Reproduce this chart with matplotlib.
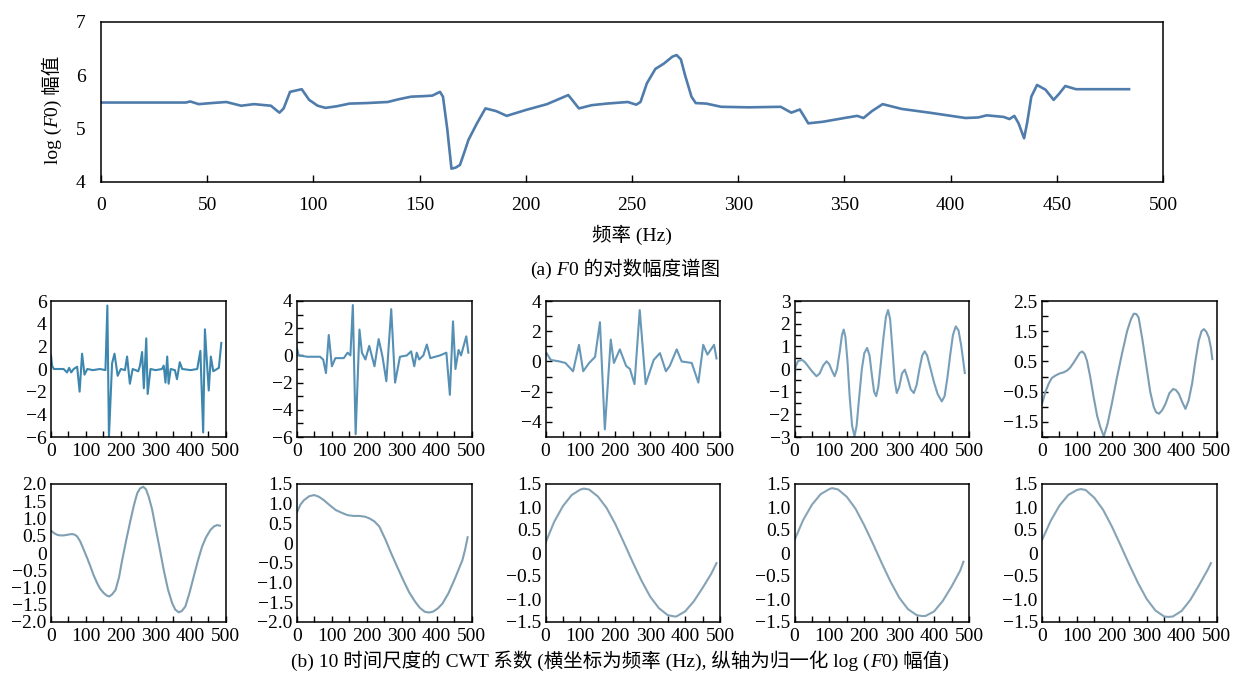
#!/usr/bin/env python3
"""
plot.py — log F0 spectrum + 10-scale CWT coefficients, saved to out.png.
"""
import matplotlib
matplotlib.use('Agg')
import matplotlib.pyplot as plt
from matplotlib.ticker import FixedLocator

FAMILY = ['Liberation Serif', 'Noto Sans CJK SC']
plt.rcParams['font.family'] = FAMILY
plt.rcParams['axes.unicode_minus'] = True

W, H = 1233, 680

# --- (a) log F0 amplitude -------------------------------------------------
f0_x = [0, 20, 40, 42, 46, 52, 59, 63, 66, 72, 80, 84, 86, 89, 94.5, 98, 102,
        105.7, 111, 117, 125, 135, 140, 146, 152, 156, 159.6, 161, 163, 165,
        167, 169, 171, 173, 177, 181, 186, 191, 200, 210, 220, 225, 231, 238,
        248, 252, 254, 257, 261, 265, 269, 271, 273, 275, 278, 280, 285, 292,
        305, 320, 325, 329, 333, 340, 350, 356, 359, 363, 368, 377, 390, 407,
        413, 417, 425, 427.7, 430, 432, 434.6, 436, 438, 440.7, 444.7, 448.5,
        451, 454, 459, 470, 484]
f0_y = [5.49, 5.49, 5.49, 5.51, 5.46, 5.48, 5.5, 5.46, 5.43, 5.46, 5.43, 5.3,
        5.38, 5.69, 5.74, 5.54, 5.43, 5.39, 5.42, 5.47, 5.48, 5.5, 5.55, 5.6,
        5.61, 5.62, 5.69, 5.6, 5.0, 4.25, 4.27, 4.32, 4.55, 4.79, 5.1, 5.38,
        5.33, 5.24, 5.35, 5.46, 5.63, 5.38, 5.44, 5.47, 5.5, 5.45, 5.5, 5.85,
        6.12, 6.22, 6.35, 6.38, 6.3, 6.0, 5.6, 5.48, 5.47, 5.41, 5.4, 5.41,
        5.3, 5.36, 5.1, 5.13, 5.2, 5.24, 5.2, 5.33, 5.46, 5.37, 5.3, 5.2,
        5.21, 5.25, 5.22, 5.18, 5.24, 5.1, 4.82, 5.1, 5.6, 5.82, 5.73, 5.54,
        5.65, 5.8, 5.74, 5.74, 5.74]
f0_xticks = [0, 50, 100, 150, 200, 250, 300, 350, 400, 450, 500]
f0_yticks = [4, 5, 6, 7]

# --- (b) CWT coefficients, 10 scales ---------------------------------------
cwt1_x = [0, 3, 8, 36, 46, 52, 58, 65, 75, 82, 89, 96, 104, 120, 140, 156,
          161.5, 166, 175, 182, 191, 200, 212, 218, 226, 234, 250, 255, 261,
          266, 273, 277, 285, 300, 318, 323, 328, 333, 337, 343, 355, 361, 369,
          376, 400, 419, 428, 436, 441, 446, 452, 458, 465, 481, 488]
cwt1_y = [1.2, 0.3, 0.0, 0.0, -0.3, 0.1, -0.3, 0.0, 0.2, -2.0, 1.35, -0.5,
          0.0, -0.1, 0.0, -0.1, 5.6, -6.0, 0.5, 1.35, -0.6, 0.0, -0.1, 1.1,
          -1.3, 0.0, -0.2, 0.3, 1.5, -1.7, 2.7, -2.2, 0.0, -0.1, 0.0, 0.3,
          -1.2, 1.1, -1.3, 0.0, -0.1, -0.9, 0.6, 0.0, -0.1, 0.0, 1.6, -5.6,
          3.5, 1.0, -1.9, 1.1, -0.2, 0.1, 2.3]

cwt2_x = [0, 5, 30, 66, 75, 83, 91, 100, 110, 134, 145, 153, 160, 168, 179,
          186, 196, 207, 222, 234, 245, 256, 270, 281, 295, 315, 327, 336, 343,
          350, 362, 372, 382, 410, 428, 438, 447, 454, 463, 470, 485, 491]
cwt2_y = [0.5, 0.0, -0.1, -0.1, -0.3, -1.3, 1.5, -0.8, -0.2, -0.2, 0.2, 0.0,
          3.7, -5.8, 1.9, 0.2, -0.3, 0.7, -0.8, 1.2, -0.1, -1.9, 3.4, -2.0,
          -0.1, 0.0, 0.3, -0.8, 0.2, -0.3, 0.0, 0.8, -0.2, 0.0, 0.2, -2.9,
          2.5, -1.0, 0.4, 0.0, 1.4, 0.2]

cwt3_x = [0, 3, 15, 40, 57, 79, 96, 108, 125, 142, 156, 170, 187, 196, 213,
          231, 242, 255, 270, 287, 310, 328, 345, 356, 376, 390, 419, 438, 452,
          464, 483, 490]
cwt3_y = [0.4, 0.56, 0.1, 0.0, -0.1, -0.65, 1.1, -0.65, -0.1, 0.3, 2.6, -4.5,
          1.45, -0.1, 0.8, -0.3, -0.5, -1.5, 3.4, -1.5, 0.1, 0.55, -0.65,
          -0.3, 0.8, 0.0, -0.1, -1.4, 1.1, 0.45, 1.1, 0.2]

cwt4_x = [0, 3, 10, 22, 30, 40, 50, 63, 72, 82, 92, 100, 108, 115, 122, 130,
          136, 141, 146, 152, 158, 165, 172, 178, 185, 193, 200, 208, 215, 222,
          228, 234, 240, 247, 255, 262, 268, 274, 280, 287, 293, 300, 308, 316,
          324, 333, 342, 350, 358, 366, 373, 380, 390, 400, 410, 422, 430, 438,
          446, 454, 462, 470, 478, 484, 488]
cwt4_y = [-0.5, 0.1, 0.35, 0.4, 0.3, 0.1, -0.1, -0.32, -0.2, 0.15, 0.34, 0.2,
          -0.1, -0.32, 0.0, 0.8, 1.5, 1.74, 1.4, 0.3, -1.2, -2.5, -2.97, -2.5,
          -1.3, 0.0, 0.7, 0.93, 0.6, -0.3, -1.0, -1.2, -0.8, 0.2, 1.4, 2.3,
          2.6, 2.2, 1.0, -0.5, -1.06, -0.8, -0.2, -0.03, -0.4, -0.9, -1.06,
          -0.7, 0.0, 0.6, 0.78, 0.6, 0.0, -0.6, -1.1, -1.43, -1.2, -0.4, 0.6,
          1.5, 1.88, 1.7, 1.0, 0.3, -0.18]

cwt5_x = [0, 3, 10, 19, 28, 38, 50, 62, 72, 81, 90, 100, 108, 115, 122, 129,
          138, 148, 158, 167, 177, 188, 200, 215, 230, 244, 255, 263, 270, 277,
          288, 301, 310, 320, 327, 335, 344, 354, 365, 376, 384, 392, 402, 411,
          420, 430, 440, 449, 457, 464, 471, 478, 484, 488]
cwt5_y = [-0.9, -0.79, -0.5, -0.24, -0.05, 0.03, 0.1, 0.14, 0.2, 0.3, 0.45,
          0.63, 0.78, 0.83, 0.75, 0.52, 0.0, -0.68, -1.3, -1.67, -1.98, -1.56,
          -0.9, -0.02, 0.8, 1.51, 1.9, 2.08, 2.07, 1.95, 1.2, 0.2, -0.5, -1.0,
          -1.18, -1.23, -1.12, -0.9, -0.55, -0.41, -0.45, -0.57, -0.85, -1.07,
          -0.8, -0.24, 0.55, 1.18, 1.5, 1.57, 1.48, 1.29, 0.95, 0.58]

cwt6_x = [0, 8, 17, 26, 36, 48, 60, 68, 75, 84, 94, 103, 113, 122, 132, 141,
          151, 159, 167, 175, 185, 195, 204, 215, 228, 238, 247, 255, 264, 272,
          280, 290, 299, 311, 323, 335, 347, 356, 366, 375, 385, 397, 409, 421,
          433, 445, 457, 467, 476, 484]
cwt6_y = [0.65, 0.58, 0.53, 0.51, 0.51, 0.53, 0.55, 0.53, 0.48, 0.33, 0.09,
          -0.13, -0.39, -0.64, -0.87, -1.04, -1.16, -1.23, -1.26, -1.2, -1.07,
          -0.7, -0.2, 0.35, 0.96, 1.4, 1.73, 1.87, 1.92, 1.85, 1.63, 1.25,
          0.77, 0.15, -0.49, -1.05, -1.45, -1.64, -1.72, -1.68, -1.55, -1.15,
          -0.68, -0.22, 0.19, 0.47, 0.67, 0.77, 0.81, 0.79]

cwt7_x = [0, 10, 20, 35, 49, 62, 77, 94, 111, 128, 145, 162, 179, 195, 207,
          222, 236, 253, 270, 287, 304, 321, 338, 352, 366, 378, 389, 403, 417,
          434, 451, 463, 474, 482, 489]
cwt7_y = [0.78, 0.98, 1.09, 1.19, 1.22, 1.18, 1.09, 0.96, 0.84, 0.77, 0.71,
          0.69, 0.69, 0.67, 0.63, 0.55, 0.42, 0.1, -0.26, -0.6, -0.93, -1.24,
          -1.48, -1.64, -1.74, -1.76, -1.74, -1.66, -1.53, -1.27, -0.93, -0.67,
          -0.43, -0.15, 0.15]

cwt8_x = [0, 25, 50, 75, 100, 110, 125, 150, 175, 200, 225, 250, 275, 300,
          325, 350, 370, 375, 400, 425, 450, 475, 490]
cwt8_y = [0.22, 0.68, 1.02, 1.26, 1.38, 1.40, 1.38, 1.23, 0.98, 0.63, 0.22,
          -0.2, -0.6, -0.95, -1.2, -1.35, -1.38, -1.38, -1.27, -1.05, -0.76,
          -0.45, -0.22]

cwt9_x = [0, 25, 50, 75, 100, 108, 125, 150, 175, 200, 225, 250, 275, 300,
          325, 350, 365, 375, 400, 425, 450, 475, 484]
cwt9_y = [0.28, 0.72, 1.05, 1.28, 1.39, 1.41, 1.38, 1.22, 0.96, 0.6, 0.2,
          -0.22, -0.62, -0.97, -1.22, -1.35, -1.37, -1.37, -1.27, -1.04,
          -0.73, -0.38, -0.19]

cwt10_x = [0, 25, 50, 75, 100, 111, 125, 150, 175, 200, 225, 250, 275, 300,
           325, 350, 362, 375, 400, 425, 450, 475, 484]
cwt10_y = [0.28, 0.7, 1.03, 1.26, 1.37, 1.39, 1.37, 1.2, 0.94, 0.58, 0.17,
           -0.25, -0.65, -1.0, -1.25, -1.38, -1.39, -1.38, -1.26, -1.02, -0.7,
           -0.36, -0.22]

cwt_xticks = [0, 100, 200, 300, 400, 500]
cwt_ylims = [(-6, 6), (-6, 4), (-5, 4), (-3, 3), (-2, 2.5),
             (-2, 2), (-2, 1.5), (-1.5, 1.5), (-1.5, 1.5), (-1.5, 1.5)]
cwt_yticks = [
    [-6, -4, -2, 0, 2, 4, 6],
    [-6, -4, -2, 0, 2, 4],
    [-4, -2, 0, 2, 4],
    [-3, -2, -1, 0, 1, 2, 3],
    [-1.5, -0.5, 0.5, 1.5, 2.5],
    [-2.0, -1.5, -1.0, -0.5, 0, 0.5, 1.0, 1.5, 2.0],
    [-2.0, -1.5, -1.0, -0.5, 0, 0.5, 1.0, 1.5],
    [-1.5, -1.0, -0.5, 0, 0.5, 1.0, 1.5],
    [-1.5, -1.0, -0.5, 0, 0.5, 1.0, 1.5],
    [-1.5, -1.0, -0.5, 0, 0.5, 1.0, 1.5],
]
# little unlabelled y ticks only show on the first row (panels 2..5)
cwt_yminor = [None, [-5, -3, -1, 1, 3], [-3, -1, 1, 3],
              [-2.5, -1.5, -0.5, 0.5, 1.5, 2.5], [-2, -1, 0, 1, 2],
              None, None, None, None, None]
cwt_colors = ['#3d87ae', '#5590b4', '#6898b8', '#789fba', '#7c9db3',
              '#7f9fb3', '#80a0b3', '#85a3b5', '#86a4b6', '#86a4b6']

ylabel_parts = [('log (', False), ('F', True), ('0) 幅值', False)]
xlabel_text = '频率 (Hz)'
cap_a_parts = [('(a)', False), (' F', True), ('0 的对数幅度谱图', False)]
cap_b_parts = [('(b) 10 时间尺度的 CWT 系数 (横坐标为频率 (Hz), 纵轴为归一化 log (', False),
               ('F', True), ('0) 幅值)', False)]


def px_axes(fig, left, top, width, height):
    """Axes placed in pixel coords measured from the top-left corner."""
    return fig.add_axes([left / W, 1 - (top + height) / H, width / W, height / H])


def tick_labels(ticks):
    # one decimal if any tick is fractional, plain 0 for zero, real minus sign
    dec = 0 if all(float(t).is_integer() for t in ticks) else 1
    out = []
    for v in ticks:
        if abs(v) < 1e-9:
            out.append('0')
            continue
        s = f'{abs(v):.{dec}f}'
        out.append(('\u2212' if v < 0 else '') + s)
    return out


def rich_text(fig, x, y, parts, size, rotation=0):
    """Text made of pieces, some italic; x, y = centre of baseline in px."""
    r = fig.canvas.get_renderer()
    widths = []
    for s, it in parts:
        t = fig.text(0, 0, s, fontsize=size, family=FAMILY,
                     style='italic' if it else 'normal')
        widths.append(t.get_window_extent(r).width)
        t.remove()
    pos = -sum(widths) / 2
    for (s, it), w in zip(parts, widths):
        if rotation == 0:
            fx, fy = (x + pos) / W, 1 - y / H
        else:
            fx, fy = x / W, 1 - (y - pos) / H
        fig.text(fx, fy, s, fontsize=size, family=FAMILY,
                 style='italic' if it else 'normal', rotation=rotation,
                 rotation_mode='anchor', ha='left', va='baseline')
        pos += w


def main():
    fig = plt.figure(figsize=(W / 100, H / 100), dpi=100)
    fig.canvas.draw()

    # top panel
    ax = px_axes(fig, 101, 22, 1062, 160)
    ax.plot(f0_x, f0_y, color='#4f7cab', linewidth=1.9)
    ax.set_xlim(0, 500)
    ax.set_ylim(4, 7)
    ax.xaxis.set_major_locator(FixedLocator(f0_xticks))
    ax.yaxis.set_major_locator(FixedLocator(f0_yticks))
    ax.tick_params(axis='x', direction='in', length=5, width=1, pad=11,
                   labelsize=14)
    ax.tick_params(axis='y', direction='in', length=0, pad=11, labelsize=14)
    for sp in ax.spines.values():
        sp.set_linewidth(1.1)

    rich_text(fig, 58, 110, ylabel_parts, 14, rotation=90)
    fig.text(632 / W, 1 - 235 / H, xlabel_text, fontsize=14, ha='center',
             va='center')
    rich_text(fig, 625, 275, cap_a_parts, 14)

    # 2 x 5 grid of CWT panels
    xs = [cwt1_x, cwt2_x, cwt3_x, cwt4_x, cwt5_x,
          cwt6_x, cwt7_x, cwt8_x, cwt9_x, cwt10_x]
    ys = [cwt1_y, cwt2_y, cwt3_y, cwt4_y, cwt5_y,
          cwt6_y, cwt7_y, cwt8_y, cwt9_y, cwt10_y]
    lefts = [51, 297, 545.5, 794.5, 1042]
    tops = [301, 484]
    heights = [136, 138]
    for i in range(10):
        row, col = divmod(i, 5)
        a = px_axes(fig, lefts[col], tops[row], 174.5, heights[row])
        a.plot(xs[i], ys[i], color=cwt_colors[i], linewidth=1.5)
        a.set_xlim(0, 500)
        a.set_ylim(*cwt_ylims[i])
        a.xaxis.set_major_locator(FixedLocator(cwt_xticks))
        a.xaxis.set_minor_locator(FixedLocator([50, 150, 250, 350, 450]))
        a.yaxis.set_major_locator(FixedLocator(cwt_yticks[i]))
        a.set_yticklabels(tick_labels(cwt_yticks[i]))
        if cwt_yminor[i]:
            a.yaxis.set_minor_locator(FixedLocator(cwt_yminor[i]))
            ylen = 4
        else:
            ylen = 0
        a.tick_params(axis='x', which='both', direction='in', length=4,
                      width=1, pad=4, labelsize=14)
        a.tick_params(axis='y', which='both', direction='in', length=ylen,
                      width=1, pad=3, labelsize=14)
        for sp in a.spines.values():
            sp.set_linewidth(1.1)

    rich_text(fig, 620, 667, cap_b_parts, 14)

    fig.savefig('out.png', dpi=100)
    plt.close(fig)


if __name__ == '__main__':
    main()
